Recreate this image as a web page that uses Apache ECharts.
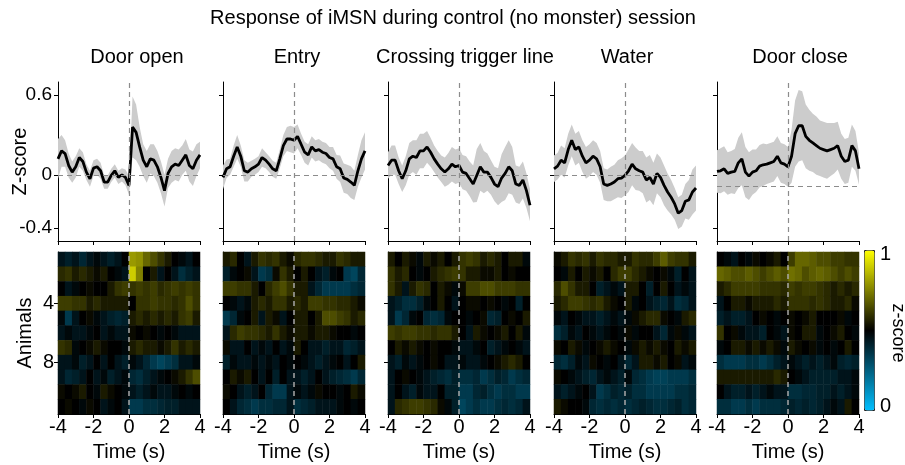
<!DOCTYPE html>
<html>
<head>
<meta charset="utf-8">
<script src="https://cdn.jsdelivr.net/npm/echarts@6/dist/echarts.min.js"></script>
<style>
  html, body { margin: 0; padding: 0; background: #fff; }
  #chart { width: 905px; height: 465px; }
</style>
</head>
<body>
<div id="chart"></div>
<script>
// time samples of the averaged traces (s)
const times = [-4, -3.8, -3.6, -3.4, -3.2, -3, -2.8, -2.6, -2.4, -2.2, -2, -1.8, -1.6, -1.4, -1.2, -1, -0.8, -0.6, -0.4, -0.2,
  0, 0.2, 0.4, 0.6, 0.8, 1, 1.2, 1.4, 1.6, 1.8, 2, 2.2, 2.4, 2.6, 2.8, 3, 3.2, 3.4, 3.6, 3.8, 4];

const panelNames = ['Door open', 'Entry', 'Crossing trigger line', 'Water', 'Door close'];

// mean z-score and SEM per event
const meanDoorOpen = [0.12, 0.18, 0.16, 0.07, 0.02, 0.06, 0.13, 0.10, 0.02, -0.03, 0.05,
  0.06, 0.03, -0.055, -0.055, -0.005, 0.03, -0.02, 0, -0.02, -0.08,
  0.36, 0.32, 0.21, 0.11, 0.06, 0.12, 0.11, 0.06, -0.02, -0.12,
  0.01, 0.06, 0.08, 0.07, 0.11, 0.15, 0.07, 0.045, 0.11, 0.15];
const semDoorOpen = [0.15, 0.12, 0.1, 0.09, 0.08, 0.08, 0.07, 0.07, 0.06, 0.06, 0.06,
  0.06, 0.06, 0.05, 0.05, 0.05, 0.05, 0.05, 0.05, 0.06, 0.07,
  0.23, 0.21, 0.15, 0.12, 0.12, 0.11, 0.12, 0.12, 0.12, 0.12,
  0.11, 0.12, 0.12, 0.12, 0.11, 0.12, 0.12, 0.13, 0.12, 0.1];

const meanEntry = [-0.02, 0.045, 0.06, 0.14, 0.21, 0.14, 0.03, 0.02, 0.045, 0.06, 0.08,
  0.13, 0.11, 0.08, 0.045, 0.03, 0.12, 0.22, 0.27, 0.27, 0.26,
  0.29, 0.23, 0.17, 0.15, 0.21, 0.18, 0.19, 0.17, 0.16, 0.13,
  0.12, 0.06, 0.045, -0.025, -0.035, -0.055, -0.08, 0.03, 0.12, 0.18];
const semEntry = [0.09, 0.07, 0.06, 0.08, 0.09, 0.08, 0.08, 0.07, 0.06, 0.06, 0.06,
  0.07, 0.06, 0.06, 0.06, 0.06, 0.07, 0.08, 0.09, 0.1, 0.1,
  0.09, 0.08, 0.08, 0.08, 0.08, 0.08, 0.08, 0.08, 0.08, 0.08,
  0.09, 0.09, 0.1, 0.11, 0.11, 0.12, 0.11, 0.12, 0.14, 0.14];

const meanCrossing = [0.07, 0.11, 0.11, 0.03, -0.03, 0.03, 0.12, 0.14, 0.13, 0.18, 0.18,
  0.21, 0.17, 0.12, 0.08, 0.045, 0.02, 0.045, 0.08, 0.06, 0.07,
  0.02, 0.01, -0.03, -0.07, -0.005, 0.06, 0.02, 0.02, -0.02, -0.07,
  -0.09, -0.025, 0.01, 0.06, 0.03, -0.07, -0.08, -0.04, -0.12, -0.23];
const semCrossing = [0.1, 0.11, 0.11, 0.1, 0.1, 0.11, 0.12, 0.12, 0.13, 0.13, 0.13,
  0.12, 0.11, 0.1, 0.1, 0.1, 0.11, 0.12, 0.13, 0.13, 0.13,
  0.13, 0.13, 0.13, 0.14, 0.2, 0.18, 0.16, 0.14, 0.13, 0.13,
  0.14, 0.18, 0.2, 0.2, 0.18, 0.14, 0.14, 0.14, 0.13, 0.12];

const meanWater = [0.045, 0.065, 0.11, 0.09, 0.19, 0.26, 0.19, 0.21, 0.14, 0.09, 0.11,
  0.14, 0.12, 0.06, -0.07, -0.08, -0.07, -0.055, -0.03, -0.025, -0.005,
  0.03, 0.08, 0.045, 0.03, 0.02, -0.04, -0.02, -0.07, 0.01, -0.02,
  -0.08, -0.13, -0.17, -0.22, -0.29, -0.27, -0.2, -0.19, -0.13, -0.1];
const semWater = [0.1, 0.1, 0.11, 0.11, 0.12, 0.12, 0.12, 0.12, 0.12, 0.12, 0.12,
  0.12, 0.12, 0.12, 0.12, 0.12, 0.13, 0.13, 0.14, 0.15, 0.15,
  0.16, 0.16, 0.16, 0.15, 0.16, 0.17, 0.17, 0.16, 0.15, 0.15,
  0.15, 0.14, 0.13, 0.12, 0.12, 0.12, 0.13, 0.15, 0.17, 0.17];

const meanDoorClose = [0.025, 0.03, 0.045, 0.01, 0.02, 0.025, 0.09, 0.12, 0.02, -0.01, 0.02,
  0.03, 0.065, 0.075, 0.08, 0.09, 0.1, 0.14, 0.09, 0.08, 0.06,
  0.14, 0.31, 0.37, 0.37, 0.29, 0.26, 0.24, 0.22, 0.2, 0.19,
  0.18, 0.19, 0.2, 0.22, 0.14, 0.1, 0.11, 0.22, 0.18, 0.045];
const semDoorClose = [0.16, 0.17, 0.17, 0.16, 0.16, 0.17, 0.19, 0.2, 0.19, 0.18, 0.17,
  0.16, 0.16, 0.16, 0.15, 0.15, 0.15, 0.15, 0.15, 0.15, 0.15,
  0.2, 0.25, 0.27, 0.26, 0.24, 0.23, 0.22, 0.22, 0.21, 0.21,
  0.21, 0.2, 0.19, 0.18, 0.17, 0.17, 0.17, 0.16, 0.15, 0.12];

// dashed reference level drawn in each trace panel
const baselines = [0, 0, 0, 0, -0.09];

// heatmap bins (s) and animals
const heatBins = ['-3.8', '-3.4', '-3', '-2.6', '-2.2', '-1.8', '-1.4', '-1', '-0.6', '-0.2',
  '0.2', '0.6', '1', '1.4', '1.8', '2.2', '2.6', '3', '3.4', '3.8'];
const animals = ['1', '2', '3', '4', '5', '6', '7', '8', '9', '10', '11'];

const heatDoorOpen = [
  [0.45, 0.42, 0.45, 0.4, 0.45, 0.48, 0.45, 0.42, 0.45, 0.5, 0.8, 0.78, 0.7, 0.65, 0.6, 0.55, 0.5, 0.48, 0.45, 0.5],
  [0.58, 0.6, 0.55, 0.58, 0.55, 0.52, 0.55, 0.5, 0.48, 0.45, 0.9, 0.75, 0.5, 0.55, 0.45, 0.5, 0.45, 0.38, 0.42, 0.45],
  [0.5, 0.45, 0.48, 0.5, 0.52, 0.5, 0.5, 0.55, 0.6, 0.62, 0.6, 0.62, 0.6, 0.62, 0.58, 0.6, 0.62, 0.6, 0.62, 0.6],
  [0.62, 0.62, 0.6, 0.6, 0.55, 0.58, 0.55, 0.55, 0.55, 0.55, 0.5, 0.6, 0.6, 0.62, 0.6, 0.6, 0.58, 0.6, 0.65, 0.6],
  [0.48, 0.35, 0.45, 0.5, 0.52, 0.48, 0.45, 0.42, 0.4, 0.42, 0.55, 0.58, 0.55, 0.58, 0.55, 0.58, 0.55, 0.6, 0.62, 0.55],
  [0.45, 0.48, 0.45, 0.45, 0.48, 0.5, 0.45, 0.48, 0.45, 0.45, 0.52, 0.5, 0.52, 0.5, 0.48, 0.5, 0.48, 0.45, 0.45, 0.45],
  [0.6, 0.58, 0.48, 0.5, 0.52, 0.55, 0.52, 0.5, 0.5, 0.48, 0.55, 0.58, 0.55, 0.55, 0.52, 0.55, 0.6, 0.55, 0.58, 0.55],
  [0.45, 0.45, 0.48, 0.42, 0.45, 0.5, 0.45, 0.5, 0.45, 0.42, 0.48, 0.45, 0.4, 0.35, 0.32, 0.35, 0.38, 0.45, 0.45, 0.48],
  [0.45, 0.4, 0.42, 0.45, 0.5, 0.45, 0.48, 0.42, 0.45, 0.48, 0.4, 0.38, 0.42, 0.45, 0.48, 0.5, 0.52, 0.55, 0.6, 0.65],
  [0.52, 0.5, 0.52, 0.55, 0.5, 0.48, 0.55, 0.52, 0.5, 0.48, 0.45, 0.42, 0.45, 0.48, 0.45, 0.45, 0.48, 0.5, 0.48, 0.5],
  [0.5, 0.52, 0.5, 0.48, 0.52, 0.5, 0.45, 0.48, 0.5, 0.45, 0.35, 0.35, 0.38, 0.38, 0.4, 0.42, 0.42, 0.45, 0.45, 0.45]
];
const heatEntry = [
  [0.55, 0.58, 0.5, 0.45, 0.55, 0.6, 0.58, 0.6, 0.55, 0.52, 0.58, 0.6, 0.6, 0.58, 0.55, 0.55, 0.6, 0.58, 0.55, 0.55],
  [0.42, 0.48, 0.5, 0.52, 0.45, 0.35, 0.38, 0.52, 0.6, 0.55, 0.5, 0.55, 0.5, 0.45, 0.42, 0.48, 0.5, 0.35, 0.32, 0.4],
  [0.62, 0.62, 0.6, 0.6, 0.55, 0.5, 0.58, 0.62, 0.65, 0.6, 0.55, 0.55, 0.45, 0.4, 0.35, 0.35, 0.35, 0.35, 0.38, 0.4],
  [0.5, 0.48, 0.45, 0.48, 0.55, 0.58, 0.55, 0.6, 0.6, 0.55, 0.58, 0.55, 0.62, 0.62, 0.6, 0.6, 0.58, 0.58, 0.55, 0.52],
  [0.35, 0.4, 0.48, 0.5, 0.55, 0.45, 0.55, 0.52, 0.45, 0.5, 0.55, 0.55, 0.5, 0.55, 0.65, 0.65, 0.62, 0.6, 0.55, 0.58],
  [0.45, 0.58, 0.62, 0.6, 0.6, 0.58, 0.55, 0.6, 0.55, 0.52, 0.55, 0.55, 0.52, 0.55, 0.55, 0.52, 0.5, 0.5, 0.48, 0.5],
  [0.52, 0.45, 0.45, 0.5, 0.45, 0.48, 0.45, 0.5, 0.45, 0.48, 0.55, 0.5, 0.45, 0.45, 0.42, 0.45, 0.45, 0.4, 0.42, 0.45],
  [0.42, 0.48, 0.45, 0.45, 0.48, 0.45, 0.48, 0.45, 0.5, 0.48, 0.5, 0.48, 0.45, 0.42, 0.45, 0.48, 0.5, 0.45, 0.5, 0.55],
  [0.5, 0.55, 0.52, 0.55, 0.5, 0.45, 0.5, 0.42, 0.5, 0.45, 0.45, 0.42, 0.45, 0.5, 0.45, 0.42, 0.4, 0.38, 0.35, 0.4],
  [0.52, 0.5, 0.45, 0.42, 0.45, 0.5, 0.4, 0.35, 0.35, 0.45, 0.48, 0.45, 0.48, 0.52, 0.5, 0.5, 0.48, 0.5, 0.55, 0.52],
  [0.5, 0.45, 0.4, 0.38, 0.35, 0.38, 0.38, 0.4, 0.4, 0.45, 0.38, 0.4, 0.42, 0.45, 0.45, 0.45, 0.48, 0.5, 0.48, 0.5]
];
const heatCrossing = [
  [0.55, 0.5, 0.55, 0.52, 0.48, 0.55, 0.52, 0.55, 0.5, 0.55, 0.6, 0.62, 0.6, 0.55, 0.58, 0.55, 0.5, 0.55, 0.55, 0.48],
  [0.6, 0.55, 0.58, 0.5, 0.48, 0.5, 0.55, 0.58, 0.6, 0.62, 0.6, 0.55, 0.55, 0.52, 0.52, 0.55, 0.5, 0.52, 0.5, 0.5],
  [0.6, 0.55, 0.45, 0.55, 0.6, 0.58, 0.5, 0.55, 0.52, 0.48, 0.52, 0.62, 0.62, 0.65, 0.65, 0.62, 0.62, 0.62, 0.6, 0.6],
  [0.45, 0.42, 0.38, 0.38, 0.42, 0.48, 0.5, 0.55, 0.5, 0.45, 0.5, 0.52, 0.52, 0.5, 0.52, 0.5, 0.48, 0.5, 0.42, 0.5],
  [0.45, 0.35, 0.4, 0.48, 0.5, 0.4, 0.38, 0.4, 0.48, 0.5, 0.5, 0.48, 0.5, 0.52, 0.4, 0.42, 0.5, 0.52, 0.5, 0.55],
  [0.62, 0.6, 0.62, 0.62, 0.6, 0.6, 0.58, 0.6, 0.6, 0.55, 0.5, 0.45, 0.55, 0.52, 0.5, 0.52, 0.55, 0.5, 0.55, 0.48],
  [0.5, 0.55, 0.52, 0.55, 0.52, 0.5, 0.52, 0.5, 0.5, 0.48, 0.45, 0.45, 0.48, 0.5, 0.42, 0.45, 0.48, 0.5, 0.48, 0.45],
  [0.45, 0.42, 0.48, 0.45, 0.48, 0.5, 0.52, 0.5, 0.45, 0.45, 0.48, 0.45, 0.45, 0.48, 0.5, 0.52, 0.55, 0.58, 0.55, 0.5],
  [0.45, 0.5, 0.52, 0.5, 0.48, 0.45, 0.42, 0.4, 0.38, 0.42, 0.38, 0.38, 0.4, 0.35, 0.38, 0.42, 0.4, 0.35, 0.38, 0.4],
  [0.45, 0.5, 0.45, 0.42, 0.48, 0.45, 0.45, 0.5, 0.42, 0.42, 0.35, 0.35, 0.4, 0.42, 0.38, 0.35, 0.38, 0.38, 0.35, 0.35],
  [0.45, 0.58, 0.6, 0.62, 0.62, 0.6, 0.58, 0.52, 0.48, 0.42, 0.32, 0.35, 0.38, 0.35, 0.35, 0.38, 0.4, 0.38, 0.4, 0.45]
];
const heatWater = [
  [0.52, 0.55, 0.6, 0.58, 0.6, 0.55, 0.6, 0.58, 0.58, 0.55, 0.55, 0.6, 0.58, 0.58, 0.62, 0.68, 0.62, 0.6, 0.6, 0.55],
  [0.5, 0.48, 0.55, 0.5, 0.55, 0.52, 0.55, 0.5, 0.58, 0.62, 0.62, 0.58, 0.55, 0.52, 0.5, 0.52, 0.48, 0.42, 0.5, 0.45],
  [0.58, 0.65, 0.6, 0.55, 0.55, 0.5, 0.42, 0.45, 0.48, 0.45, 0.55, 0.55, 0.5, 0.42, 0.5, 0.55, 0.5, 0.45, 0.48, 0.45],
  [0.55, 0.58, 0.62, 0.62, 0.6, 0.58, 0.6, 0.55, 0.52, 0.5, 0.55, 0.48, 0.5, 0.45, 0.42, 0.4, 0.45, 0.38, 0.4, 0.45],
  [0.48, 0.45, 0.5, 0.48, 0.45, 0.45, 0.42, 0.45, 0.48, 0.45, 0.48, 0.52, 0.55, 0.58, 0.58, 0.52, 0.5, 0.48, 0.55, 0.58],
  [0.38, 0.42, 0.48, 0.45, 0.5, 0.48, 0.45, 0.48, 0.5, 0.48, 0.52, 0.48, 0.5, 0.5, 0.45, 0.4, 0.48, 0.52, 0.48, 0.45],
  [0.52, 0.5, 0.55, 0.52, 0.48, 0.5, 0.52, 0.55, 0.52, 0.5, 0.48, 0.52, 0.55, 0.52, 0.55, 0.52, 0.5, 0.55, 0.52, 0.55],
  [0.4, 0.38, 0.42, 0.48, 0.45, 0.52, 0.5, 0.48, 0.5, 0.45, 0.4, 0.45, 0.55, 0.55, 0.52, 0.55, 0.5, 0.52, 0.45, 0.48],
  [0.52, 0.5, 0.48, 0.45, 0.42, 0.4, 0.45, 0.48, 0.45, 0.42, 0.48, 0.4, 0.38, 0.35, 0.33, 0.33, 0.35, 0.35, 0.35, 0.38],
  [0.45, 0.42, 0.45, 0.48, 0.5, 0.45, 0.35, 0.38, 0.42, 0.4, 0.42, 0.38, 0.38, 0.35, 0.35, 0.35, 0.35, 0.38, 0.38, 0.4],
  [0.55, 0.52, 0.5, 0.5, 0.48, 0.4, 0.38, 0.4, 0.38, 0.4, 0.38, 0.4, 0.42, 0.4, 0.38, 0.38, 0.4, 0.42, 0.38, 0.4]
];
const heatDoorClose = [
  [0.5, 0.48, 0.45, 0.5, 0.48, 0.52, 0.5, 0.52, 0.55, 0.5, 0.62, 0.7, 0.7, 0.68, 0.65, 0.65, 0.62, 0.62, 0.6, 0.6],
  [0.7, 0.68, 0.65, 0.65, 0.68, 0.65, 0.62, 0.65, 0.68, 0.65, 0.72, 0.7, 0.65, 0.68, 0.7, 0.68, 0.65, 0.62, 0.65, 0.62],
  [0.55, 0.58, 0.62, 0.62, 0.62, 0.62, 0.6, 0.6, 0.6, 0.58, 0.62, 0.6, 0.62, 0.62, 0.6, 0.58, 0.55, 0.58, 0.55, 0.58],
  [0.45, 0.5, 0.55, 0.55, 0.52, 0.55, 0.55, 0.55, 0.58, 0.55, 0.6, 0.6, 0.6, 0.58, 0.6, 0.58, 0.55, 0.55, 0.58, 0.52],
  [0.42, 0.45, 0.42, 0.42, 0.45, 0.5, 0.52, 0.5, 0.48, 0.5, 0.52, 0.5, 0.52, 0.55, 0.5, 0.5, 0.5, 0.52, 0.48, 0.5],
  [0.6, 0.5, 0.52, 0.48, 0.45, 0.45, 0.42, 0.5, 0.48, 0.45, 0.52, 0.5, 0.55, 0.55, 0.48, 0.5, 0.52, 0.55, 0.5, 0.48],
  [0.48, 0.5, 0.55, 0.55, 0.52, 0.55, 0.52, 0.55, 0.52, 0.48, 0.55, 0.52, 0.5, 0.52, 0.48, 0.5, 0.48, 0.5, 0.55, 0.5],
  [0.38, 0.35, 0.35, 0.35, 0.38, 0.38, 0.35, 0.38, 0.42, 0.45, 0.48, 0.45, 0.42, 0.45, 0.42, 0.45, 0.48, 0.42, 0.4, 0.42],
  [0.55, 0.55, 0.55, 0.55, 0.55, 0.55, 0.55, 0.55, 0.58, 0.55, 0.5, 0.48, 0.45, 0.42, 0.42, 0.42, 0.42, 0.45, 0.45, 0.48],
  [0.5, 0.45, 0.42, 0.42, 0.45, 0.42, 0.45, 0.48, 0.45, 0.45, 0.38, 0.38, 0.4, 0.4, 0.42, 0.42, 0.45, 0.42, 0.45, 0.48],
  [0.38, 0.38, 0.35, 0.35, 0.38, 0.35, 0.38, 0.38, 0.38, 0.4, 0.42, 0.4, 0.42, 0.4, 0.42, 0.45, 0.48, 0.45, 0.55, 0.5]
];

const panelMeans = [meanDoorOpen, meanEntry, meanCrossing, meanWater, meanDoorClose];
const panelSems = [semDoorOpen, semEntry, semCrossing, semWater, semDoorClose];
const panelHeats = [heatDoorOpen, heatEntry, heatCrossing, heatWater, heatDoorClose];

// layout
const FONT = "'Liberation Sans', Arial, Helvetica, sans-serif";
const panelLeft = [58, 223, 388, 554, 717];
const titleX = [137, 297, 465, 627, 800];
const panelWidth = 142;
const lineTop = 82, lineHeight = 159;
const heatTop = 252, heatHeight = 162;

const axisLineStyle = {color: '#000', width: 1};
const isTickRow = (idx) => idx === 3 || idx === 7;

const grid = [], xAxis = [], yAxis = [], series = [], heatSeriesIdx = [];

panelNames.forEach((name, i) => {
  const first = i === 0;
  const ax = 3 * i;
  const mean = panelMeans[i], sem = panelSems[i];
  grid.push({left: panelLeft[i], top: lineTop, width: panelWidth, height: lineHeight, containLabel: false, outerBoundsMode: 'none'});
  grid.push({left: panelLeft[i], top: heatTop, width: panelWidth, height: heatHeight, containLabel: false, outerBoundsMode: 'none'});

  // trace panel axes
  xAxis.push({
    type: 'value', gridIndex: 2 * i, position: 'bottom', min: -4, max: 4, interval: 2,
    axisLine: {show: true, onZero: false, lineStyle: axisLineStyle},
    axisTick: {show: true, length: 4, lineStyle: axisLineStyle},
    axisLabel: {show: false}, splitLine: {show: false}
  });
  // heatmap axes
  xAxis.push({type: 'category', gridIndex: 2 * i + 1, position: 'top', data: heatBins, show: false});
  xAxis.push({
    type: 'value', gridIndex: 2 * i + 1, position: 'bottom', min: -4, max: 4, interval: 2,
    axisLine: {show: true, onZero: false, lineStyle: axisLineStyle},
    axisTick: {show: true, length: 4, lineStyle: axisLineStyle},
    axisLabel: {color: '#000', fontSize: 20, fontFamily: FONT, margin: 3},
    splitLine: {show: false},
    name: 'Time (s)', nameLocation: 'middle', nameGap: 28, nameMoveOverlap: false,
    nameTextStyle: {color: '#000', fontSize: 20, fontFamily: FONT}
  });

  yAxis.push({
    type: 'value', gridIndex: 2 * i, position: 'left', min: -0.5, max: 0.7,
    axisLine: {show: true, onZero: false, lineStyle: axisLineStyle},
    axisTick: {show: true, length: 4, lineStyle: axisLineStyle, customValues: [-0.4, 0, 0.6]},
    axisLabel: {show: first, customValues: [-0.4, 0, 0.6], color: '#000', fontSize: 19, fontFamily: FONT, margin: 6,
      formatter: v => String(Math.round(v * 10) / 10)},
    splitLine: {show: false},
    name: first ? 'Z-score' : '', nameLocation: 'middle', nameGap: 28, nameMoveOverlap: false,
    nameTextStyle: {color: '#000', fontSize: 20, fontFamily: FONT}
  });
  yAxis.push({
    type: 'category', gridIndex: 2 * i + 1, position: 'left', data: animals, inverse: true,
    axisLine: {show: true, onZero: false, lineStyle: axisLineStyle},
    axisTick: {show: true, length: 4, alignWithLabel: true, interval: isTickRow, lineStyle: axisLineStyle},
    axisLabel: {show: first, interval: isTickRow, color: '#000', fontSize: 20, fontFamily: FONT, margin: 4},
    splitLine: {show: false},
    name: first ? 'Animals' : '', nameLocation: 'middle', nameGap: 23, nameMoveOverlap: false,
    nameTextStyle: {color: '#000', fontSize: 20, fontFamily: FONT}
  });
  yAxis.push({type: 'value', gridIndex: 2 * i + 1, position: 'right', min: 0, max: 1, show: false});

  // SEM band as one polygon through the axis scales
  const bandData = times.map((t, k) => [t, mean[k] - sem[k], mean[k] + sem[k]]);
  series.push({
    type: 'custom', xAxisIndex: ax, yAxisIndex: ax, silent: true, z: 1,
    data: bandData, encode: {x: 0, y: [1, 2]},
    renderItem: (params, api) => {
      if (params.dataIndex !== 0) return null;
      const pts = [];
      bandData.forEach(d => pts.push(api.coord([d[0], d[2]])));
      for (let k = bandData.length - 1; k >= 0; k--) pts.push(api.coord([bandData[k][0], bandData[k][1]]));
      return {type: 'polygon', shape: {points: pts}, style: {fill: '#cccccc', stroke: null}};
    }
  });
  series.push({
    type: 'line', xAxisIndex: ax, yAxisIndex: ax,
    data: mean.map((m, k) => [times[k], m]),
    symbol: 'none', lineStyle: {color: '#000', width: 2.8}, z: 3,
    markLine: {
      silent: true, symbol: 'none', label: {show: false},
      lineStyle: {color: '#8c8c8c', type: [5, 4], width: 1.2},
      data: [{xAxis: 0}, {yAxis: baselines[i]}]
    }
  });

  // heatmap per animal
  const cells = [];
  panelHeats[i].forEach((row, r) => row.forEach((v, c) => cells.push([c, r, v])));
  heatSeriesIdx.push(series.length);
  series.push({
    type: 'heatmap', xAxisIndex: ax + 1, yAxisIndex: ax + 1, data: cells, silent: true, progressive: 0
  });
  series.push({
    type: 'line', xAxisIndex: ax + 2, yAxisIndex: ax + 2, data: [], z: 5,
    markLine: {
      silent: true, symbol: 'none', label: {show: false},
      lineStyle: {color: '#a8a8a8', type: [5, 4], width: 1.5},
      data: [{xAxis: 0}]
    }
  });
});

const graphic = [
  {type: 'text', x: 453, y: 18, style: {text: 'Response of iMSN during control (no monster) session',
    font: '20px ' + FONT, fill: '#000', textAlign: 'center', textVerticalAlign: 'middle'}},
  {type: 'text', x: 880, y: 254, style: {text: '1', font: '20px ' + FONT, fill: '#000', textAlign: 'left', textVerticalAlign: 'middle'}},
  {type: 'text', x: 880, y: 406, style: {text: '0', font: '20px ' + FONT, fill: '#000', textAlign: 'left', textVerticalAlign: 'middle'}},
  {type: 'text', x: 898, y: 333, rotation: -Math.PI / 2,
    style: {text: 'z-score', font: '18px ' + FONT, fill: '#000', textAlign: 'center', textVerticalAlign: 'middle'}}
];
panelNames.forEach((name, i) => {
  graphic.push({type: 'text', x: titleX[i], y: 57,
    style: {text: name, font: '20px ' + FONT, fill: '#000', textAlign: 'center', textVerticalAlign: 'middle'}});
});

const chart = echarts.init(document.getElementById('chart'), null, {renderer: 'canvas'});
chart.setOption({
  animation: false,
  backgroundColor: '#fff',
  textStyle: {fontFamily: FONT},
  grid: grid,
  xAxis: xAxis,
  yAxis: yAxis,
  visualMap: {
    type: 'continuous', min: 0, max: 1, seriesIndex: heatSeriesIdx, calculable: false,
    orient: 'vertical', left: 864, top: 250, itemWidth: 10, itemHeight: 160, text: null,
    padding: 0, borderColor: '#222', borderWidth: 1, hoverLink: false,
    inRange: {color: ['#00bfff', '#000000', '#ffff00']}
  },
  series: series,
  graphic: graphic
});
</script>
</body>
</html>
